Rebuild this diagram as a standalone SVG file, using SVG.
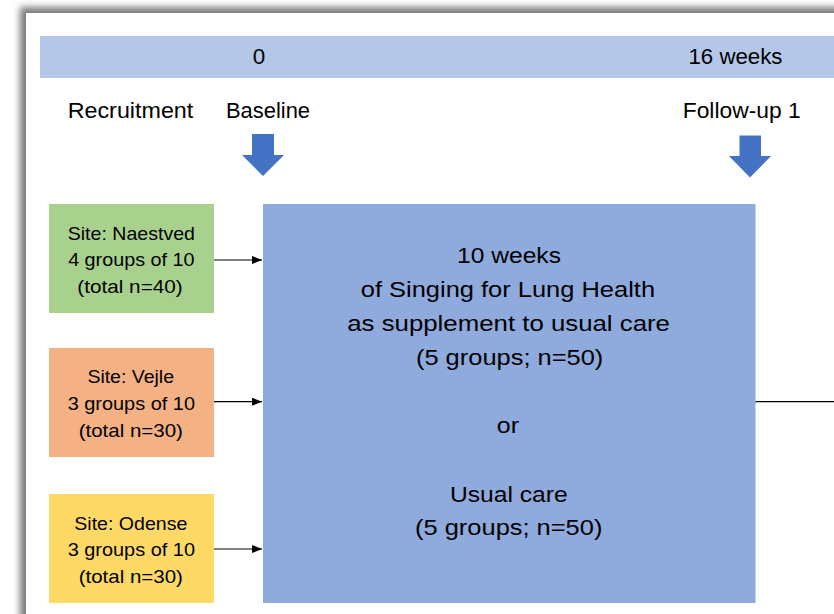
<svg xmlns="http://www.w3.org/2000/svg" width="834" height="614" viewBox="0 0 834 614">
  <defs>
    <filter id="shadow" x="-0.1" y="-0.1" width="1.2" height="1.2">
      <feGaussianBlur stdDeviation="3.5"/>
    </filter>
    <marker id="arr" markerWidth="10" markerHeight="8" refX="10" refY="4" orient="auto" markerUnits="userSpaceOnUse">
      <path d="M0,0 L10,4 L0,8 Z" fill="#000"/>
    </marker>
  </defs>
  <style>
    text { font-family: "Liberation Sans", Arial, sans-serif; fill: #000; text-anchor: middle; }
    .top { font-size: 22px; }
    .site { font-size: 18px; }
    .main { font-size: 22px; }
    .conn { stroke: #000; stroke-width: 1.2; fill: none; }
    .blk { fill: #4472C4; }
  </style>
  <rect x="0" y="0" width="834" height="614" fill="#ffffff"/>
  <rect x="20" y="7" width="900" height="700" fill="#7a7a7a" filter="url(#shadow)"/>
  <rect x="26" y="13" width="820" height="610" fill="#ffffff"/>

  <g id="timeline">
    <rect x="40" y="36" width="800" height="42" fill="#B4C7E7"/>
    <text class="top" x="259" y="63.5" textLength="12.5" lengthAdjust="spacingAndGlyphs">0</text>
    <text class="top" x="735.5" y="64" textLength="94" lengthAdjust="spacingAndGlyphs">16 weeks</text>
  </g>

  <g id="labels">
    <text class="top" x="130.5" y="117.5" textLength="125.6" lengthAdjust="spacingAndGlyphs">Recruitment</text>
    <text class="top" x="268" y="117.5" textLength="84" lengthAdjust="spacingAndGlyphs">Baseline</text>
    <text class="top" x="741.7" y="117.5" textLength="118" lengthAdjust="spacingAndGlyphs">Follow-up 1</text>
  </g>

  <g id="arrow-baseline">
    <path class="blk" d="M252,134 H274 V155 H284 L263,176 L242,155 H252 Z"/>
  </g>
  <g id="arrow-followup">
    <path class="blk" d="M739.5,135.5 H761 V156 H771 L750,177.5 L729,156 H739.5 Z"/>
  </g>

  <g id="site-naestved">
    <rect x="49" y="204" width="165" height="109" fill="#A9D18E"/>
    <text class="site" transform="translate(131.3,239.5) scale(1.09,1)" textLength="116.8" lengthAdjust="spacingAndGlyphs">Site: Naestved</text>
    <text class="site" transform="translate(131.3,266.2) scale(1.09,1)" textLength="115.9" lengthAdjust="spacingAndGlyphs">4 groups of 10</text>
    <text class="site" transform="translate(130,292.9) scale(1.09,1)" textLength="96.6" lengthAdjust="spacingAndGlyphs">(total n=40)</text>
  </g>

  <g id="site-vejle">
    <rect x="49" y="348" width="165" height="109" fill="#F4B183"/>
    <text class="site" transform="translate(130.7,383.3) scale(1.09,1)" textLength="79.5" lengthAdjust="spacingAndGlyphs">Site: Vejle</text>
    <text class="site" transform="translate(131.3,410) scale(1.09,1)" textLength="116.8" lengthAdjust="spacingAndGlyphs">3 groups of 10</text>
    <text class="site" transform="translate(130.8,436.7) scale(1.09,1)" textLength="95.7" lengthAdjust="spacingAndGlyphs">(total n=30)</text>
  </g>

  <g id="site-odense">
    <rect x="49" y="494" width="165" height="109" fill="#FFD966"/>
    <text class="site" transform="translate(130.8,529.5) scale(1.09,1)" textLength="103.7" lengthAdjust="spacingAndGlyphs">Site: Odense</text>
    <text class="site" transform="translate(131.3,556.2) scale(1.09,1)" textLength="116.8" lengthAdjust="spacingAndGlyphs">3 groups of 10</text>
    <text class="site" transform="translate(130.8,582.9) scale(1.09,1)" textLength="95.7" lengthAdjust="spacingAndGlyphs">(total n=30)</text>
  </g>

  <g id="intervention">
    <rect x="263" y="204" width="492.5" height="399" fill="#8FAADC"/>
    <text class="main" transform="translate(509,262.7) scale(1.13,1)" textLength="92" lengthAdjust="spacingAndGlyphs">10 weeks</text>
    <text class="main" transform="translate(507.9,296.7) scale(1.13,1)" textLength="260.4" lengthAdjust="spacingAndGlyphs">of Singing for Lung Health</text>
    <text class="main" transform="translate(508.6,330.8) scale(1.13,1)" textLength="285.6" lengthAdjust="spacingAndGlyphs">as supplement to usual care</text>
    <text class="main" transform="translate(509.6,364.8) scale(1.13,1)" textLength="165.8" lengthAdjust="spacingAndGlyphs">(5 groups; n=50)</text>
    <text class="main" transform="translate(507.9,433) scale(1.13,1)" textLength="19.7" lengthAdjust="spacingAndGlyphs">or</text>
    <text class="main" transform="translate(508.8,501.5) scale(1.13,1)" textLength="104.2" lengthAdjust="spacingAndGlyphs">Usual care</text>
    <text class="main" transform="translate(508.7,535.3) scale(1.13,1)" textLength="165.8" lengthAdjust="spacingAndGlyphs">(5 groups; n=50)</text>
  </g>

  <g id="connectors">
    <line class="conn" x1="214" y1="260" x2="262" y2="260" marker-end="url(#arr)"/>
    <line class="conn" x1="214" y1="401.7" x2="262" y2="401.7" marker-end="url(#arr)"/>
    <line class="conn" x1="214" y1="549" x2="262" y2="549" marker-end="url(#arr)"/>
    <line class="conn" x1="755.5" y1="401.7" x2="834" y2="401.7" stroke="#222"/>
  </g>
</svg>
